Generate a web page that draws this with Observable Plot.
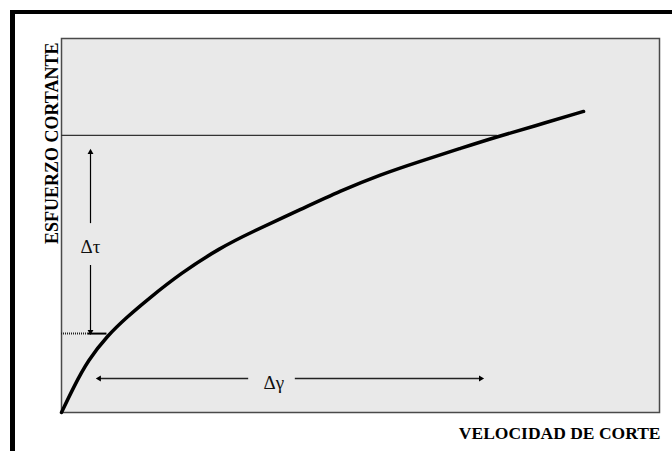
<!DOCTYPE html>
<html><head><meta charset="utf-8">
<script src="https://cdn.jsdelivr.net/npm/d3@7"></script>
<script src="https://cdn.jsdelivr.net/npm/@observablehq/plot@0.6"></script>
<style>
html,body{margin:0;padding:0;background:#fff;}
#wrap{position:relative;width:672px;height:451px;overflow:hidden;}
#wrap svg{position:absolute;left:0;top:0;}
#frame{position:absolute;left:10px;top:10px;width:700px;height:500px;border-top:4px solid #000;border-left:5px solid #000;pointer-events:none;}
</style></head><body><div id="wrap"><div id="frame"></div></div>
<script>
// Flow curve: shear rate (gamma) vs shear stress (tau), arbitrary units 0-100
const gamma = [0, 2.0, 4.4, 7.7, 11.0, 14.4, 19.9, 26.6, 31.6, 40.0, 46.7, 53.3, 60.0, 66.7, 72.6, 78.9, 87.3];
const tau   = [0, 6.7, 13.9, 20.6, 25.6, 30.2, 37.2, 44.1, 48.1, 54.3, 59.3, 63.6, 67.2, 70.6, 73.6, 76.5, 80.5];

// Reference levels
const tauLow = 21.1, gammaLow = 7.6, gammaLowDotEnd = 4.5;
const tauHigh = 74.1, gammaHigh = 72.9;

// Δτ arrow (vertical) and Δγ arrow (horizontal)
const dTauX = 4.85, dTauEnds = [21.6, 69.6], dTauGap = [39.3, 50.5], dTauLabelY = 44.4;
const dGamY = 9.1, dGamEnds = [6.3, 70.1], dGamGap = [31.3, 39.1], dGamLabelX = 35.5;

const axisLabels = {y: "ESFUERZO CORTANTE", x: "VELOCIDAD DE CORTE"};
const deltaLabels = {tau: "Δτ", gamma: "Δγ"};

const curve = gamma.map((g, i) => ({g, t: tau[i]}));

const chart = Plot.plot({
  width: 672, height: 451,
  marginLeft: 61, marginRight: 13, marginTop: 38, marginBottom: 39,
  x: {domain: [0, 100], axis: null},
  y: {domain: [0, 100], axis: null},
  style: {background: "transparent", fontFamily: "'Liberation Serif', serif", color: "#000"},
  marks: [
    Plot.frame({fill: "#e9e9e9", stroke: "#4a4a4a", strokeWidth: 1.5}),
    // upper tau level
    Plot.ruleY([tauHigh], {x1: 0, x2: gammaHigh, stroke: "#333", strokeWidth: 1.3}),
    // lower tau level: dotted then solid
    Plot.ruleY([tauLow], {x1: 0, x2: gammaLowDotEnd, stroke: "#222", strokeWidth: 2, strokeDasharray: "1,1"}),
    Plot.ruleY([tauLow], {x1: gammaLowDotEnd, x2: gammaLow, stroke: "#000", strokeWidth: 2}),
    // Δτ arrow
    Plot.ruleX([dTauX], {y1: dTauEnds[0], y2: dTauGap[0], stroke: "#000", strokeWidth: 1.2}),
    Plot.ruleX([dTauX], {y1: dTauGap[1], y2: dTauEnds[1], stroke: "#000", strokeWidth: 1.2}),
    Plot.dot([{x: dTauX, y: dTauEnds[1], r: 0}, {x: dTauX, y: dTauEnds[0], r: 180}],
      {x: "x", y: "y", rotate: "r", symbol: "triangle2", r: 2.8, fill: "#000"}),
    Plot.text([deltaLabels.tau], {x: dTauX, y: dTauLabelY, fontSize: 19, fill: "#111"}),
    // Δγ arrow
    Plot.ruleY([dGamY], {x1: dGamEnds[0], x2: dGamGap[0], stroke: "#222", strokeWidth: 1.4}),
    Plot.ruleY([dGamY], {x1: dGamGap[1], x2: dGamEnds[1], stroke: "#222", strokeWidth: 1.4}),
    Plot.dot([{x: dGamEnds[0], y: dGamY, r: -90}, {x: dGamEnds[1], y: dGamY, r: 90}],
      {x: "x", y: "y", rotate: "r", symbol: "triangle2", r: 2.8, fill: "#000"}),
    Plot.text([deltaLabels.gamma], {x: dGamLabelX, y: dGamY, dy: 4, fontSize: 19, fill: "#111"}),
    // flow curve
    Plot.line(curve, {x: "g", y: "t", curve: "basis", stroke: "#000", strokeWidth: 3.5, strokeLinecap: "round"}),
    // axis labels
    Plot.text([axisLabels.y], {frameAnchor: "top-left", rotate: -90, textAnchor: "end", dx: -16, dy: 4,
      fontSize: 18, fontWeight: "bold", fill: "#000"}),
    Plot.text([axisLabels.x], {frameAnchor: "bottom-right", textAnchor: "end", dx: 1, dy: 26,
      fontSize: 17.5, fontWeight: "bold", fill: "#000"})
  ]
});
document.getElementById("wrap").prepend(chart);
</script>
</body></html>
